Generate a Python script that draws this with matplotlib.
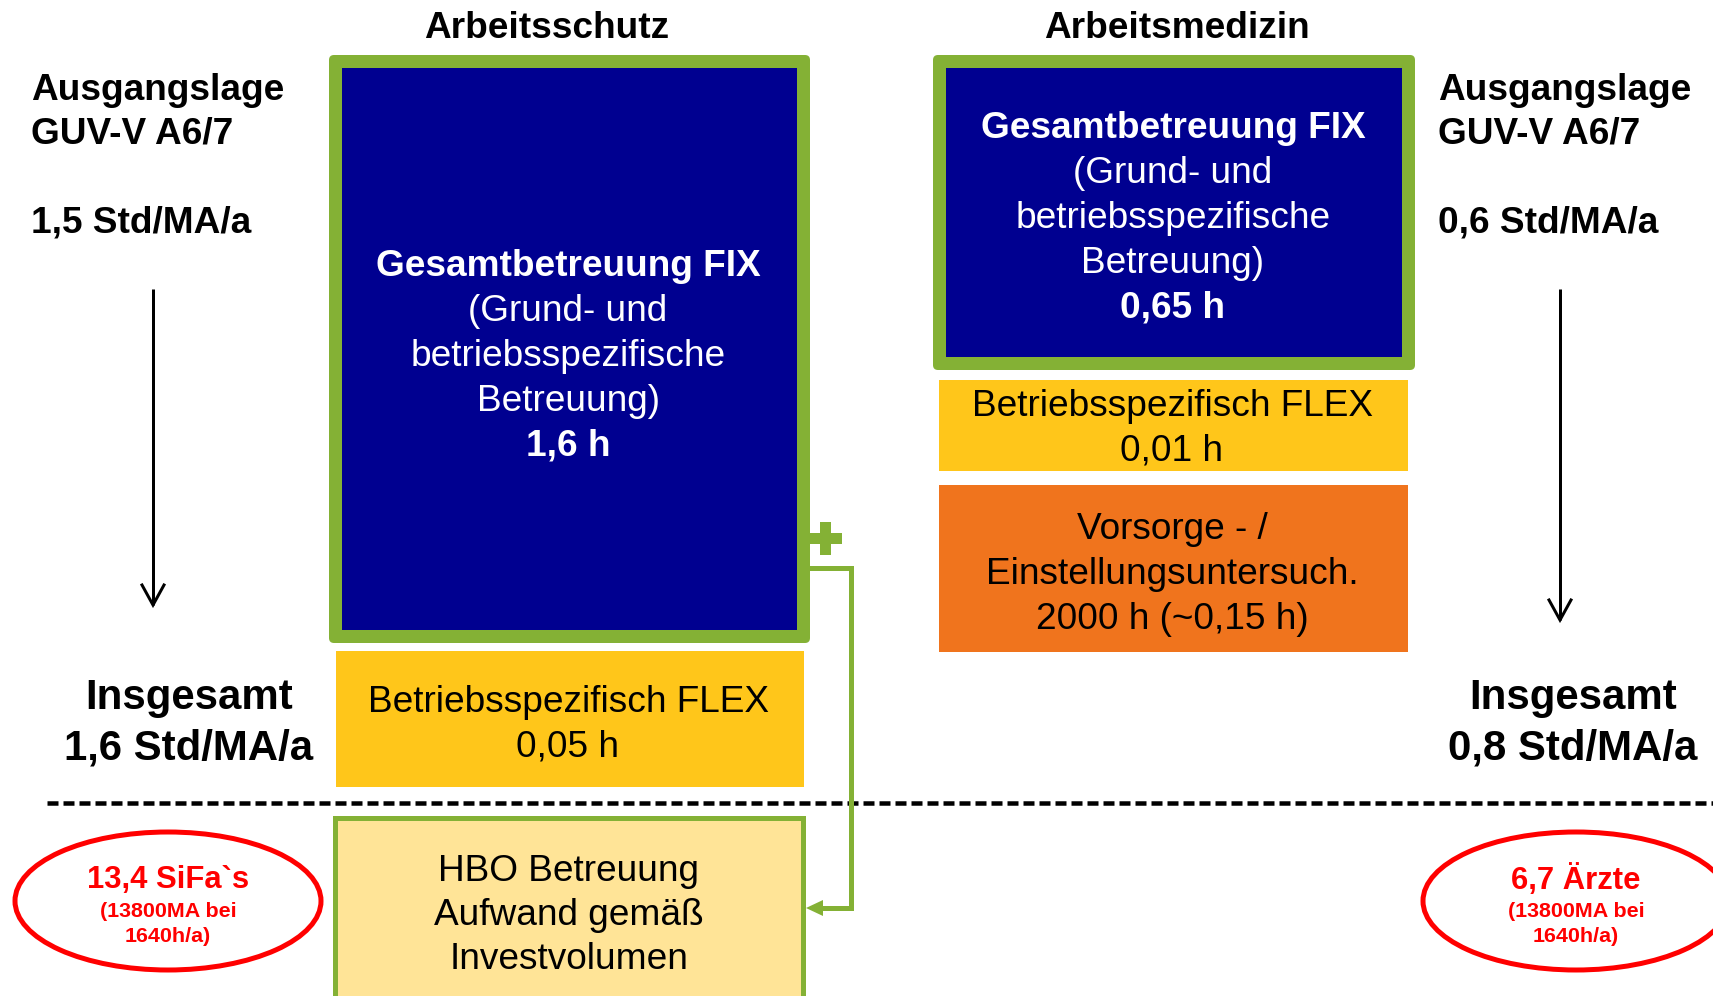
import matplotlib
matplotlib.use("Agg")
import matplotlib.pyplot as plt
from matplotlib.patches import Rectangle, FancyBboxPatch, Ellipse, Polygon

plt.rcParams['font.family'] = ['Liberation Sans', 'DejaVu Sans']

# ---- data / texts ----
categories = ["Arbeitsschutz", "Arbeitsmedizin"]
ausgangslage_label = ["Ausgangslage", "GUV-V A6/7"]
ausgangslage_values = ["1,5 Std/MA/a", "0,6 Std/MA/a"]
fix_title = "Gesamtbetreuung FIX"
fix_desc = ["(Grund- und", "betriebsspezifische", "Betreuung)"]
fix_hours = ["1,6 h", "0,65 h"]
flex_title = "Betriebsspezifisch FLEX"
flex_hours = ["0,05 h", "0,01 h"]
vorsorge_lines = ["Vorsorge - /", "Einstellungsuntersuch.", "2000 h (~0,15 h)"]
hbo_lines = ["HBO Betreuung", "Aufwand gemäß", "Investvolumen"]
insgesamt_values = ["1,6 Std/MA/a", "0,8 Std/MA/a"]
personal_values = ["13,4 SiFa`s", "6,7 Ärzte"]
personal_basis = ["(13800MA bei", "1640h/a)"]

# ---- colours ----
BLUE = "#000090"
GREEN = "#84B135"
YELLOW = "#FFC61A"
ORANGE = "#F0741D"
LIGHTYELLOW = "#FFE497"
RED = "#FF0000"

W, H = 1713, 996
fig = plt.figure(figsize=(W / 100, H / 100), dpi=100)
ax = fig.add_axes([0, 0, 1, 1])
ax.set_xlim(0, W)
ax.set_ylim(H, 0)
ax.axis('off')

PX = 0.72  # points per pixel at dpi 100
DY = 3     # text vertical offset


def fs(px):
    return px * PX


def rect(x0, y0, x1, y1, color, z=1):
    ax.add_patch(Rectangle((x0, y0), x1 - x0, y1 - y0, facecolor=color,
                           edgecolor='none', zorder=z))


def green_box(x0, y0, x1, y1, b=13):
    ax.add_patch(FancyBboxPatch((x0, y0), x1 - x0, y1 - y0,
                                boxstyle="round,pad=0,rounding_size=5",
                                facecolor=GREEN, edgecolor='none', zorder=1))
    rect(x0 + b, y0 + b, x1 - b, y1 - b, BLUE, z=2)


def txt(x, y, t, size, ha='center', color='black', weight='normal'):
    ax.text(x, y + DY, t, ha=ha, va='center', fontsize=fs(size),
            color=color, fontweight=weight, zorder=5)


def lines(x, y0, step, texts, size, color='black', weights=None):
    for i, t in enumerate(texts):
        w = weights[i] if weights else 'normal'
        txt(x, y0 + i * step, t, size, color=color, weight=w)


# headers
txt(547, 25, categories[0], 37, weight='bold')
txt(1177, 25, categories[1], 37, weight='bold')

# Ausgangslage blocks
for xl, val in [(31, ausgangslage_values[0]), (1438, ausgangslage_values[1])]:
    txt(xl, 87, ausgangslage_label[0], 37, ha='left', weight='bold')
    txt(xl, 131, ausgangslage_label[1], 37, ha='left', weight='bold')
    txt(xl, 220, val, 37, ha='left', weight='bold')

# down arrows
for xa, y0, y1 in [(153, 289, 605), (1560, 289, 620)]:
    ax.plot([xa, xa], [y0, y1], color='black', lw=3 * PX,
            solid_capstyle='butt')
    ax.plot([xa - 11, xa, xa + 11], [y1 - 20, y1, y1 - 20], color='black',
            lw=3 * PX, solid_joinstyle='miter')

# left FIX box
green_box(329, 55, 810, 643)
fix_texts = [fix_title] + fix_desc + [fix_hours[0]]
wts = ['bold', 'normal', 'normal', 'normal', 'bold']
lines(568, 263, 45, fix_texts, 37, color='white', weights=wts)

# right FIX box
green_box(933, 55, 1415, 370)
fix_texts_r = [fix_title] + fix_desc + [fix_hours[1]]
lines(1173, 125, 45, fix_texts_r, 37, color='white', weights=wts)

# plus sign
rect(809, 533, 842, 544, GREEN, z=3)
rect(820, 522, 831, 555, GREEN, z=3)

# FLEX boxes
rect(336, 651, 804, 787, YELLOW)
lines(568, 699, 45, [flex_title, flex_hours[0]], 37)
rect(939, 380, 1408, 471, YELLOW)
lines(1172, 403, 45, [flex_title, flex_hours[1]], 37)

# Vorsorge box
rect(939, 485, 1408, 652, ORANGE)
lines(1172, 526, 45, vorsorge_lines, 37)

# Insgesamt
lines(189, 695, 50, ["Insgesamt", insgesamt_values[0]], 42,
      weights=['bold', 'bold'])
lines(1573, 695, 50, ["Insgesamt", insgesamt_values[1]], 42,
      weights=['bold', 'bold'])

# dashed separator
ax.plot([47, W], [803, 803], color='black', lw=4.5 * PX,
        dashes=(11 / 4.5, 5 / 4.5), solid_capstyle='butt',
        dash_capstyle='butt')

# HBO box
ax.add_patch(Rectangle((335, 818), 468, 220, facecolor=LIGHTYELLOW,
                       edgecolor=GREEN, lw=5 * PX, zorder=2))
lines(569, 868, 44, hbo_lines, 37)

# connector
ax.plot([809, 851, 851, 820], [568, 568, 908, 908], color=GREEN,
        lw=5 * PX, solid_joinstyle='miter', solid_capstyle='butt', zorder=3)
ax.add_patch(Polygon([[806, 908], [823, 900], [823, 916]], closed=True,
                     facecolor=GREEN, edgecolor='none', zorder=4))

# ellipses
for cx, title in [(168, personal_values[0]), (1576, personal_values[1])]:
    ax.add_patch(Ellipse((cx, 901), 306, 138, facecolor='none',
                         edgecolor=RED, lw=5 * PX, zorder=3))
    txt(cx, 877, title, 31, color=RED, weight='bold')
    lines(cx, 908, 25, personal_basis, 21.5, color=RED,
          weights=['bold', 'bold'])

fig.savefig("out.png", dpi=100)
